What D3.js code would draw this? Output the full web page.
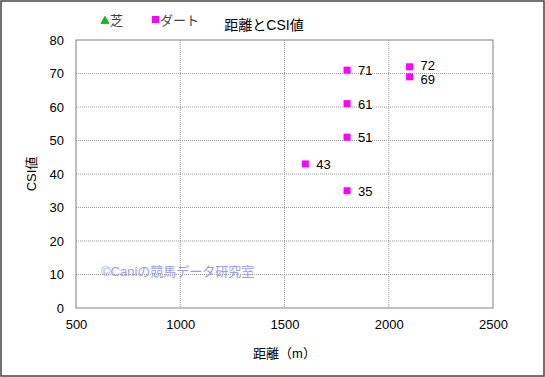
<!DOCTYPE html>
<html>
<head>
<meta charset="utf-8">
<script src="https://cdn.jsdelivr.net/npm/d3@7"></script>
<style>
body { margin: 0; background: #fff; }
text { font-family: "Liberation Sans", "Noto Sans CJK JP", sans-serif; }
</style>
</head>
<body>
<div id="chart-area"></div>
<script>
// dirt races: distance and CSI
var distances = [1800, 1800, 1800, 1800, 1600, 2100, 2100];
var csiValues = [71, 61, 51, 35, 43, 72, 69];
var xTicks = [500, 1000, 1500, 2000, 2500];
var yTicks = [0, 10, 20, 30, 40, 50, 60, 70, 80];

var W = 545, H = 377;
var margin = {top: 40, right: 52, bottom: 69, left: 76};
var width = W - margin.left - margin.right;
var height = H - margin.top - margin.bottom;

var svg = d3.select("#chart-area").append("svg")
    .attr("width", W)
    .attr("height", H);

svg.append("rect")
    .attr("x", 1).attr("y", 1)
    .attr("width", W - 2).attr("height", H - 2)
    .attr("fill", "#fff")
    .attr("stroke", "#444")
    .attr("stroke-width", 1.5);

var g = svg.append("g")
    .attr("transform", "translate(" + margin.left + ", " + margin.top + ")");

var x = d3.scaleLinear().domain([500, 2500]).range([0, width]);
var y = d3.scaleLinear().domain([0, 80]).range([height, 0]);

// grid
g.selectAll(".vgrid").data(xTicks.slice(1, -1)).enter().append("line")
    .attr("x1", (d) => x(d)).attr("x2", (d) => x(d))
    .attr("y1", 0).attr("y2", height)
    .attr("stroke", "#999").attr("stroke-dasharray", "1,1");
g.selectAll(".hgrid").data(yTicks.slice(1, -1)).enter().append("line")
    .attr("x1", 0).attr("x2", width)
    .attr("y1", (d) => y(d)).attr("y2", (d) => y(d))
    .attr("stroke", "#999").attr("stroke-dasharray", "1,1");

// watermark
g.append("text")
    .attr("x", x(620))
    .attr("y", y(11) + 5)
    .attr("font-size", "13px")
    .style("fill", "#9a9aee")
    .text("©Caniの競馬データ研究室");

g.append("rect")
    .attr("width", width).attr("height", height)
    .attr("fill", "none")
    .attr("stroke", "#808080");

var xAxisCall = d3.axisBottom(x).tickValues(xTicks).tickFormat(d3.format("d")).tickSize(0).tickPadding(10);
var yAxisCall = d3.axisLeft(y).tickValues(yTicks).tickSize(0).tickPadding(12);

var xAxisGroup = g.append("g").attr("transform", "translate(0, " + height + ")").call(xAxisCall);
var yAxisGroup = g.append("g").call(yAxisCall);
[xAxisGroup, yAxisGroup].forEach((a) => {
    a.select(".domain").remove();
    a.selectAll("text").attr("font-size", "13px").style("fill", "#000")
        .attr("font-family", "\"Liberation Sans\", sans-serif");
});
xAxisGroup.selectAll("text").attr("dy", "0.85em");

// points
var pts = distances.map((d, i) => ({dist: d, csi: csiValues[i], ly: y(csiValues[i])}));
// push apart labels that sit on top of each other
pts.forEach((a) => {
    pts.forEach((b) => {
        if (a !== b && a.dist === b.dist && a.csi > b.csi && Math.abs(a.ly - b.ly) < 14) {
            var mid = (a.ly + b.ly) / 2;
            a.ly = mid - 7;
            b.ly = mid + 7;
        }
    });
});
var s = 7;
g.selectAll(".pt").data(pts).enter().append("rect")
    .attr("x", (d) => x(d.dist) - s / 2)
    .attr("y", (d) => y(d.csi) - s / 2)
    .attr("width", s).attr("height", s)
    .attr("fill", "#ff00ff");
g.selectAll(".lbl").data(pts).enter().append("text")
    .attr("x", (d) => x(d.dist) + 11)
    .attr("y", (d) => d.ly + 5)
    .attr("font-size", "13px")
    .style("fill", "#000")
    .text((d) => d.csi);

// axis titles
svg.append("text")
    .attr("x", margin.left + width / 2)
    .attr("y", 358)
    .attr("font-size", "13px")
    .attr("text-anchor", "middle")
    .text("距離（m）");
svg.append("text")
    .attr("transform", "translate(36, " + (margin.top + height / 2) + ") rotate(-90)")
    .attr("font-size", "13px")
    .attr("text-anchor", "middle")
    .text("CSI値");

// title
svg.append("text")
    .attr("x", 264)
    .attr("y", 30)
    .attr("font-size", "14px")
    .attr("text-anchor", "middle")
    .text("距離とCSI値");

// legend
var legend = svg.append("g");
legend.append("path")
    .attr("d", d3.symbol().type(d3.symbolTriangle).size(30)())
    .attr("transform", "translate(105, 21)")
    .attr("fill", "#00cc00").attr("stroke", "#006600").attr("stroke-width", 0.5);
legend.append("text").attr("x", 110).attr("y", 25).attr("font-size", "13px")
    .style("fill", "#444").text("芝");
legend.append("rect").attr("x", 152).attr("y", 16).attr("width", 7).attr("height", 7)
    .attr("fill", "#ff00ff");
legend.append("text").attr("x", 160).attr("y", 25).attr("font-size", "13px")
    .style("fill", "#444").text("ダート");
</script>
</body>
</html>
